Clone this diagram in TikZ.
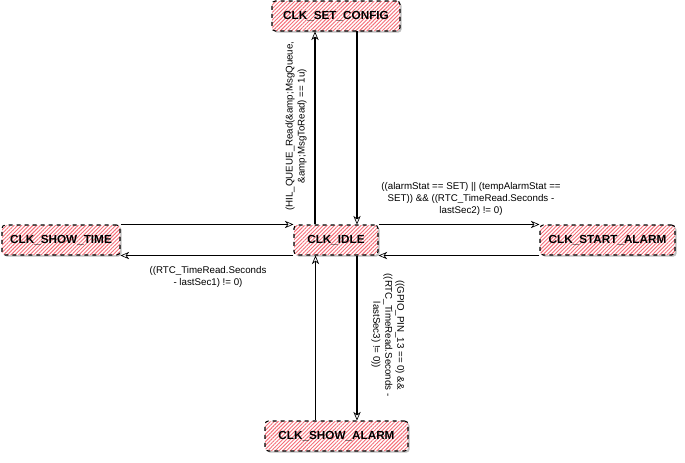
\documentclass[tikz,border=0pt]{standalone}
\usepackage{fontspec}
\setmainfont{Liberation Sans}
\usetikzlibrary{arrows.meta,patterns.meta,shadows}
\definecolor{hatch}{RGB}{245,110,120}
\begin{document}
\begin{tikzpicture}[x=0.75pt,y=-0.75pt,
  state/.style={draw=black, dashed, line width=0.8pt, rounded corners=2.5pt,
    minimum height=22.5pt, inner sep=0pt,
    font=\fontsize{8.8}{10}\selectfont\bfseries,
    drop shadow={shadow xshift=1.2pt, shadow yshift=-1.2pt, opacity=0.25, fill=black},
    preaction={fill=white},
    pattern={Lines[angle=45,distance=2pt,line width=0.7pt]}, pattern color=hatch},
  conn/.style={draw=black, line width=0.8pt, -{Stealth[open,length=6.5pt,width=5.5pt,inset=2pt,line width=0.5pt]}},
  lbl/.style={font=\fontsize{7.3}{9}\selectfont, align=center, inner sep=0pt}]
\fill[white] (0,0) rectangle (685,462);
\useasboundingbox (0,0) rectangle (685,462);

\node[state, minimum width=96pt] (cfg) at (336,16) {CLK\_SET\_CONFIG};
\node[state, minimum width=88.5pt] (time) at (61,240) {CLK\_SHOW\_TIME};
\node[state, minimum width=63pt] (idle) at (336,240) {CLK\_IDLE};
\node[state, minimum width=101.25pt] (start) at (607.5,240) {CLK\_START\_ALARM};
\node[state, minimum width=107.25pt] (alarm) at (336.5,436) {CLK\_SHOW\_ALARM};

\draw[conn] ([xshift=-15.75pt]idle.north) -- ([xshift=-15.75pt]idle.north |- cfg.south);
\draw[conn] ([xshift=15.75pt]cfg.south) -- ([xshift=15.75pt]cfg.south |- idle.north);
\draw[conn] (time.north east) -- (idle.north west);
\draw[conn] (idle.south west) -- (time.south east);
\draw[conn] (idle.north east) -- (start.north west);
\draw[conn] (start.south west) -- (idle.south east);
\draw[conn] ([xshift=-15.75pt]alarm.north) -- ([xshift=-15.75pt]alarm.north |- idle.south);
\draw[conn] ([xshift=15.75pt]idle.south) -- ([xshift=15.75pt]idle.south |- alarm.north);

\node[lbl, rotate=90] (l1) at (296,126) {(HIL\_QUEUE\_Read(\&amp;MsgQueue,\\\&amp;MsgToRead) == 1u)};
\node[lbl] (l2) at (471,199) {((alarmStat == SET) || (tempAlarmStat ==\\SET)) \&\& ((RTC\_TimeRead.Seconds -\\lastSec2) != 0)};
\node[lbl] (l3) at (208,277) {((RTC\_TimeRead.Seconds\\- lastSec1) != 0)};
\node[lbl, rotate=-90] (l4) at (388,335) {((GPIO\_PIN\_13 == 0) \&\&\\((RTC\_TimeRead.Seconds -\\lastSec3) != 0))};
\end{tikzpicture}
\end{document}
